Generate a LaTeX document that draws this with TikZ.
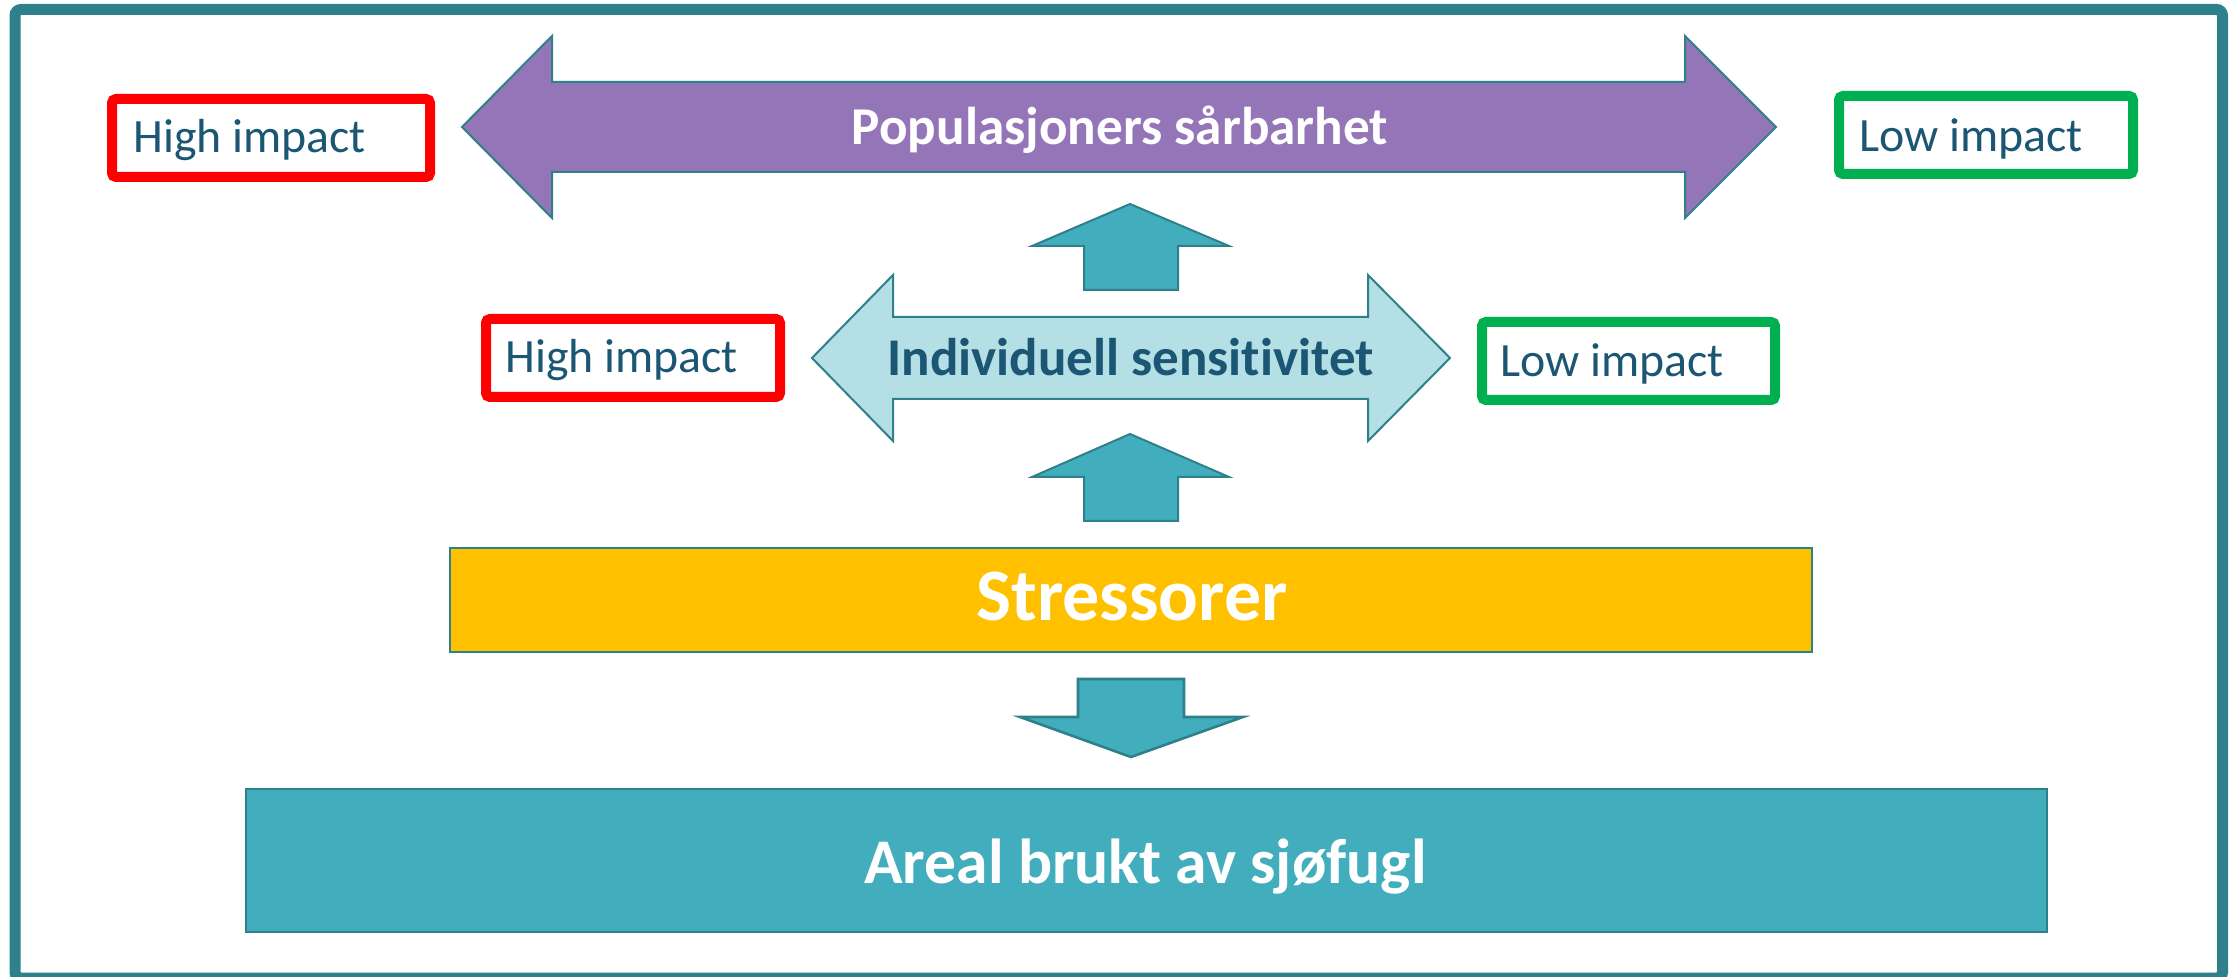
\documentclass[tikz,border=0pt]{standalone}
\usepackage{fontspec}
\setmainfont[Ligatures=NoCommon]{Carlito}
\definecolor{frameteal}{HTML}{2E808A}
\definecolor{arrowteal}{HTML}{42ADBD}
\definecolor{paleteal}{HTML}{B4DFE4}
\definecolor{lavender}{HTML}{9476B8}
\definecolor{amber}{HTML}{FFC000}
\definecolor{inkblue}{HTML}{1B5674}
\definecolor{impactred}{HTML}{FF0000}
\definecolor{impactgreen}{HTML}{00B050}
\tikzset{
  shapeline/.style={draw=frameteal, line width=1pt, line join=miter},
  impactbox/.style={line width=5pt, rounded corners=2pt, fill=white},
  impacttext/.style={inner sep=0pt, anchor=base west, text=inkblue,
    font=\fontsize{23.9pt}{28pt}\selectfont},
  boldlabel/.style={inner sep=0pt, anchor=base, font=\bfseries},
}
\begin{document}
\begin{tikzpicture}[x=0.5pt, y=-0.5pt]
\useasboundingbox (0,0) rectangle (2232,977);
\begin{scope}
\clip (0,0) rectangle (2232,977);
\fill[white] (0,0) rectangle (2232,977);
% outer frame
\draw[frameteal, line width=5.5pt, rounded corners=3pt] (15,9.5) rectangle (2222.5,978);

% population vulnerability double arrow
\draw[shapeline, fill=lavender] (462,127) -- (552,36) -- (552,82) -- (1685,82) -- (1685,36)
  -- (1776,127) -- (1685,218) -- (1685,172) -- (552,172) -- (552,218) -- cycle;
\node[boldlabel, text=white, font=\fontsize{26.6pt}{32pt}\selectfont\bfseries]
  (popv) at (1120,145) {Populasjoners sårbarhet};

% impact boxes, upper row
\draw[impactbox, draw=impactred] (112,99) rectangle (430,177);
\node[impacttext] (hiA) at (133,153) {High impact};
\draw[impactbox, draw=impactgreen] (1839,96) rectangle (2133,174);
\node[impacttext] (loA) at (1859,152) {Low impact};

% upward arrow between the two double arrows
\draw[shapeline, fill=arrowteal] (1130,204) -- (1229,246) -- (1178,246) -- (1178,290)
  -- (1084,290) -- (1084,246) -- (1032,246) -- cycle;

% individual sensitivity double arrow
\draw[shapeline, fill=paleteal] (812,358) -- (893,275) -- (893,317) -- (1368,317) -- (1368,275)
  -- (1450,358) -- (1368,441) -- (1368,399) -- (893,399) -- (893,441) -- cycle;
\node[boldlabel, text=inkblue, font=\fontsize{26.5pt}{32pt}\selectfont\bfseries]
  (indv) at (1130.5,376) {Individuell sensitivitet};

% impact boxes, middle row
\draw[impactbox, draw=impactred] (486,319) rectangle (780,397);
\node[impacttext] (hiB) at (505,373) {High impact};
\draw[impactbox, draw=impactgreen] (1482,322) rectangle (1775,400);
\node[impacttext] (loB) at (1500,377) {Low impact};

% upward arrow from stressors
\draw[shapeline, fill=arrowteal] (1130,434) -- (1229,477) -- (1178,477) -- (1178,521)
  -- (1084,521) -- (1084,477) -- (1032,477) -- cycle;

% stressors bar
\draw[shapeline, fill=amber] (450,548) rectangle (1812,652);
\node[boldlabel, text=white, font=\fontsize{37pt}{44pt}\selectfont\bfseries]
  (stress) at (1132,621) {Stressorer};

% downward arrow to the seabird area
\draw[shapeline, line width=1.3pt, fill=arrowteal] (1078,679) -- (1184,679) -- (1184,717) -- (1243,717)
  -- (1131,757) -- (1020,717) -- (1078,717) -- cycle;

% seabird area bar
\draw[shapeline, line width=1.3pt, fill=arrowteal] (246,789) rectangle (2047,932);
\node[boldlabel, text=white, font=\fontsize{31.8pt}{38pt}\selectfont\bfseries]
  (areal) at (1145.5,883) {Areal brukt av sjøfugl};
\end{scope}
\end{tikzpicture}
\end{document}
